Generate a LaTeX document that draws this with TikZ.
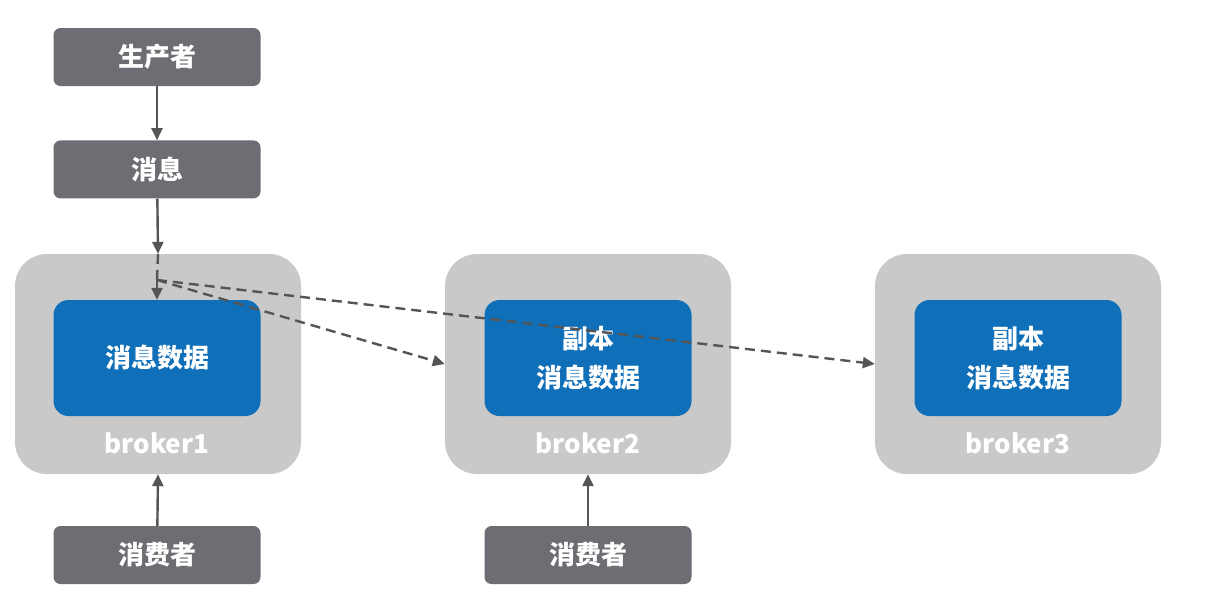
\documentclass[tikz,border=0pt]{standalone}
\usepackage{fontspec}
\setmainfont{Noto Sans CJK SC}
\usepackage{xcolor}
\usepackage{tikz}
\usetikzlibrary{arrows.meta,positioning}
\definecolor{rolegray}{HTML}{6D6E73}
\definecolor{brokergray}{HTML}{C9C9C9}
\definecolor{datablue}{HTML}{0F6FB8}
\definecolor{linegray}{HTML}{555555}
\tikzset{
  flowarrow/.style={-{Triangle[length=12pt,width=11pt]}, line width=2.4pt, draw=linegray},
  copyarrow/.style={flowarrow, dash pattern=on 10pt off 6pt},
  rolebox/.style={fill=rolegray, rounded corners=7pt, minimum width=207pt,
    minimum height=58pt, text=white, font=\bfseries\fontsize{26}{30}\selectfont},
  brokerbox/.style={fill=brokergray, rounded corners=32pt, minimum width=286pt,
    minimum height=220pt},
  databox/.style={fill=datablue, rounded corners=15pt, minimum width=207pt,
    minimum height=116pt, text=white, align=center,
    font=\bfseries\fontsize{26}{39}\selectfont},
  brokerlabel/.style={text=white, font=\bfseries\fontsize{26}{30}\selectfont}
}
\begin{document}
\begin{tikzpicture}[x=1pt, y=-1pt, node distance=54pt]
        \useasboundingbox (0,0) rectangle (1207,606);
        \node[rolebox] (prod) at (157,57) {生产者};
        \node[rolebox, below=of prod] (msg) {消息};

        \node[brokerbox] (b1) at (158,364) {};
        \node[brokerbox] (b2) at (588,364) {};
        \node[brokerbox] (b3) at (1018,364) {};
        \node[databox] (d1) at (157,358) {消息数据};
        \node[databox] (d2) at (588,358) {副本\\消息数据};
        \node[databox] (d3) at (1018,358) {副本\\消息数据};
        \node[brokerlabel] (l1) at (157,443) {broker1};
        \node[brokerlabel] (l2) at (588,443) {broker2};
        \node[brokerlabel] (l3) at (1018,443) {broker3};

        \node[rolebox] (c1) at (157,555) {消费者};
        \node[rolebox] (c2) at (588,555) {消费者};
        \coordinate (split) at (157,280);

        \draw[flowarrow] (prod) -- (msg);
        \draw[flowarrow] (msg) -- (b1.north);
        \draw[copyarrow, arrows=-] (b1.north) -- (split);
        \draw[copyarrow] (split) -- (d1.north);
        \draw[copyarrow] (split) -- (b2.west);
        \draw[copyarrow] (split) -- (b3.west);
        \draw[flowarrow] (c1) -- (b1.south);
        \draw[flowarrow] (c2) -- (b2.south);
    \end{tikzpicture}
\end{document}
